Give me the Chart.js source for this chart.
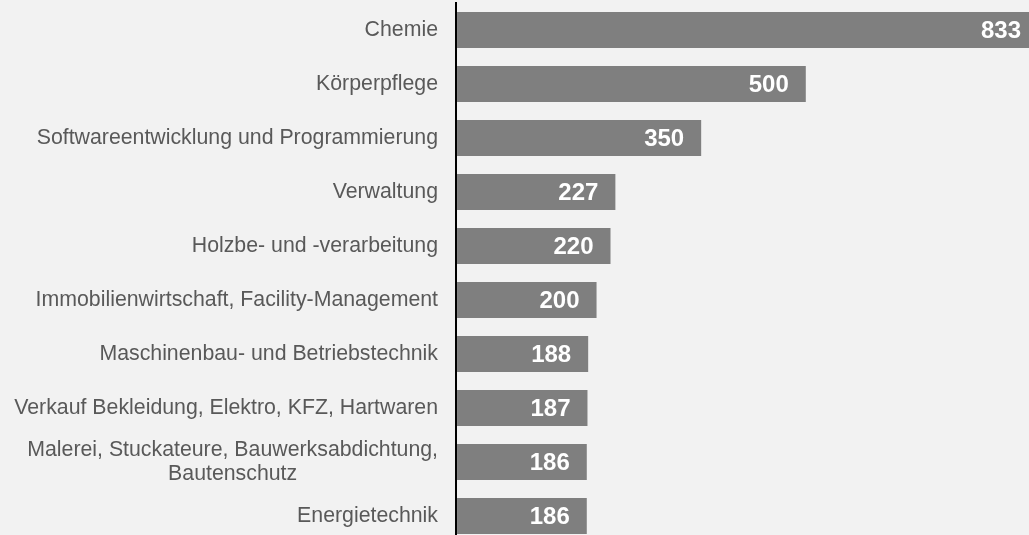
<!DOCTYPE html>
<html>
<head>
<meta charset="utf-8">
<script src="https://cdn.jsdelivr.net/npm/chart.js@4"></script>
<style>
  html, body { margin: 0; padding: 0; background: #f2f2f2; overflow: hidden; }
  #wrap { width: 1029px; height: 543px; position: relative; }
</style>
</head>
<body>
<div id="wrap"><canvas id="chart"></canvas></div>
<script>
// categories (multi-line labels as arrays)
const categories = [
    'Chemie',
    'Körperpflege',
    'Softwareentwicklung und Programmierung',
    'Verwaltung',
    'Holzbe- und -verarbeitung',
    'Immobilienwirtschaft, Facility-Management',
    'Maschinenbau- und Betriebstechnik',
    'Verkauf Bekleidung, Elektro, KFZ, Hartwaren',
    ['Malerei, Stuckateure, Bauwerksabdichtung,', 'Bautenschutz'],
    'Energietechnik'
];
const values = [833, 500, 350, 227, 220, 200, 188, 187, 186, 186];
const xMin = -1.5;
const xMax = 820;

const FONT = "Arial, 'Liberation Sans', sans-serif";

// category labels, drawn left of the axis, multi-line ones centered on each other
const categoryLabels = {
    id: 'categoryLabels',
    afterDraw(chart) {
        const ctx = chart.ctx;
        const yScale = chart.scales.y;
        const right = yScale.right - 18;
        ctx.save();
        ctx.font = '21.3px ' + FONT;
        ctx.fillStyle = '#595959';
        ctx.textBaseline = 'middle';
        categories.forEach((label, i) => {
            const y = yScale.getPixelForTick(i);
            const lines = Array.isArray(label) ? label : [label];
            if (lines.length === 1) {
                ctx.textAlign = 'right';
                ctx.fillText(lines[0], right, y);
            } else {
                const widest = Math.max(...lines.map(l => ctx.measureText(l).width));
                const cx = right - widest / 2;
                const lh = 24;
                ctx.textAlign = 'center';
                lines.forEach((l, j) => {
                    ctx.fillText(l, cx, y + (j - (lines.length - 1) / 2) * lh);
                });
            }
        });
        ctx.restore();
    }
};

// value labels inside the bar ends
const valueLabels = {
    id: 'valueLabels',
    afterDatasetsDraw(chart) {
        const ctx = chart.ctx;
        const meta = chart.getDatasetMeta(0);
        ctx.save();
        ctx.font = 'bold 24px ' + FONT;
        ctx.fillStyle = '#ffffff';
        ctx.textAlign = 'right';
        ctx.textBaseline = 'middle';
        meta.data.forEach((bar, i) => {
            ctx.fillText(String(values[i]), bar.x - 17, bar.y + 1);
        });
        ctx.restore();
    }
};

new Chart(document.getElementById('chart'), {
    type: 'bar',
    data: {
        labels: categories,
        datasets: [{
            data: values,
            backgroundColor: '#7f7f7f',
            borderWidth: 0,
            barPercentage: 0.667,
            categoryPercentage: 1
        }]
    },
    options: {
        indexAxis: 'y',
        responsive: true,
        maintainAspectRatio: false,
        animation: false,
        events: [],
        layout: { padding: { top: 3, right: 0, bottom: 0, left: 0 } },
        plugins: {
            legend: { display: false },
            tooltip: { enabled: false }
        },
        scales: {
            x: {
                display: false,
                min: xMin,
                max: xMax
            },
            y: {
                afterFit(scale) { scale.width = 456; },
                ticks: { display: false },
                grid: { display: false },
                border: { display: true, color: '#000000', width: 2 }
            }
        }
    },
    plugins: [categoryLabels, valueLabels]
});
</script>
</body>
</html>
